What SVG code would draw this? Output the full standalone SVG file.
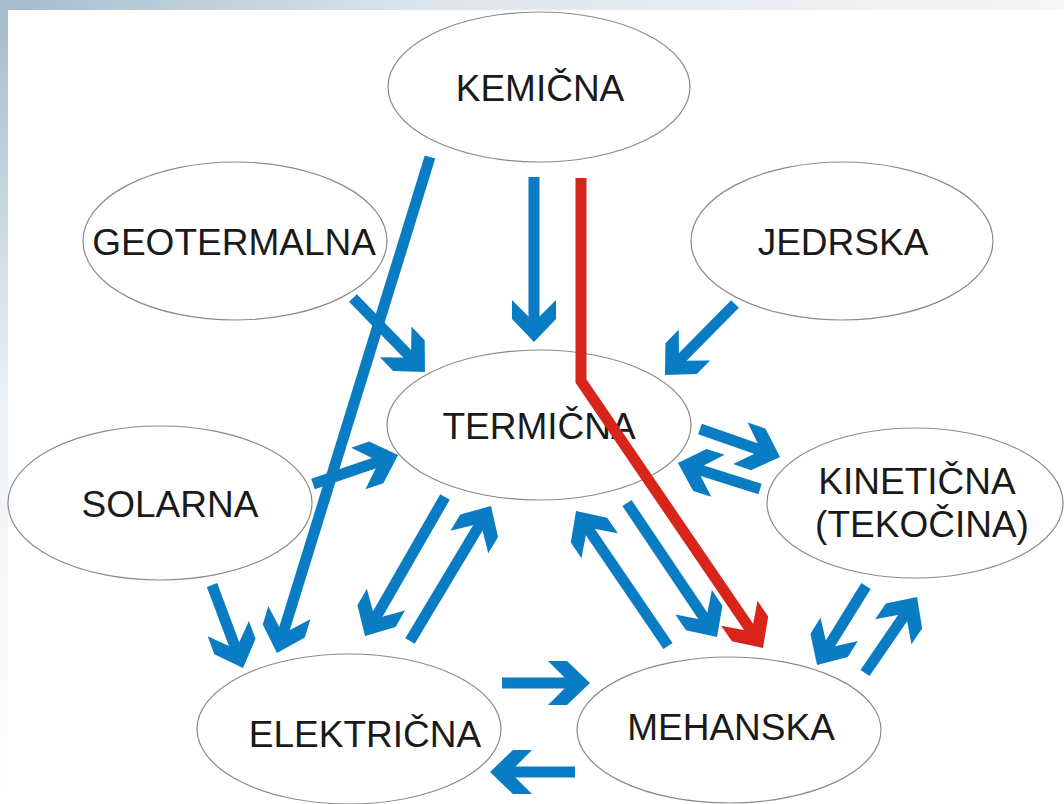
<svg xmlns="http://www.w3.org/2000/svg" width="1064" height="804" viewBox="0 0 1064 804">
  <defs>
    <linearGradient id="topBand" x1="0" y1="0" x2="1" y2="0">
      <stop offset="0" stop-color="#a6bccb"/>
      <stop offset="0.4" stop-color="#dde5ec"/>
      <stop offset="1" stop-color="#f4f6f8"/>
    </linearGradient>
    <linearGradient id="leftBand" x1="0" y1="0" x2="0" y2="1">
      <stop offset="0" stop-color="#a6bccb"/>
      <stop offset="0.5" stop-color="#eef2f5"/>
      <stop offset="1" stop-color="#ffffff"/>
    </linearGradient>
    <marker id="headB" markerUnits="userSpaceOnUse" markerWidth="44" markerHeight="44" refX="28" refY="22" orient="auto" overflow="visible">
      <polygon points="0,0 19,0 42,22 19,44 0,44 22,22" fill="#0a7cc3"/>
    </marker>
    <marker id="headR" markerUnits="userSpaceOnUse" markerWidth="44" markerHeight="44" refX="28" refY="22" orient="auto" overflow="visible">
      <polygon points="0,0 19,0 42,22 19,44 0,44 22,22" fill="#d9241c"/>
    </marker>
    <style>
      .node { fill: #ffffff; stroke: #8a8a8a; stroke-width: 1.2; }
      .lbl { font-family: "Liberation Sans", Arial, sans-serif; font-size: 37px; fill: #1a1a1a; text-anchor: middle; }
      .ab { stroke: #0a7cc3; stroke-width: 11; fill: none; marker-end: url(#headB); }
      .ar { stroke: #d9241c; stroke-width: 11; fill: none; stroke-linejoin: miter; marker-end: url(#headR); }
    </style>
  </defs>

  <rect x="0" y="0" width="1064" height="804" fill="#ffffff"/>
  <rect x="0" y="0" width="1064" height="10" fill="url(#topBand)"/>
  <rect x="0" y="10" width="8" height="794" fill="url(#leftBand)"/>

  <g id="kemicna"><ellipse class="node" cx="539" cy="87" rx="151" ry="75"/><text class="lbl" x="540" y="101">KEMIČNA</text></g>
  <g id="geotermalna"><ellipse class="node" cx="235" cy="241" rx="152" ry="79"/><text class="lbl" x="234" y="255">GEOTERMALNA</text></g>
  <g id="jedrska"><ellipse class="node" cx="842" cy="241" rx="151" ry="79"/><text class="lbl" x="843" y="255">JEDRSKA</text></g>
  <g id="termicna"><ellipse class="node" cx="539" cy="425" rx="152" ry="75"/><text class="lbl" x="539" y="439">TERMIČNA</text></g>
  <g id="solarna"><ellipse class="node" cx="160" cy="503" rx="152" ry="77"/><text class="lbl" x="170" y="517">SOLARNA</text></g>
  <g id="kineticna"><ellipse class="node" cx="915" cy="503" rx="148" ry="75"/><text class="lbl" x="917" y="494">KINETIČNA</text><text class="lbl" x="922" y="537">(TEKOČINA)</text></g>
  <g id="elektricna"><ellipse class="node" cx="349" cy="729" rx="152" ry="75"/><text class="lbl" x="365" y="747">ELEKTRIČNA</text></g>
  <g id="mehanska"><ellipse class="node" cx="729" cy="730" rx="152" ry="73"/><text class="lbl" x="731" y="740">MEHANSKA</text></g>

  <g id="connectors">
    <line class="ab" x1="430" y1="157" x2="281.1" y2="639.6"/>
    <line class="ab" x1="353" y1="298" x2="415.2" y2="362"/>
    <line class="ab" x1="534" y1="177" x2="534" y2="328"/>
    <polyline class="ar" points="581,178 581,381 755.1,636.4"/>
    <line class="ab" x1="735" y1="304" x2="674.8" y2="365"/>
    <line class="ab" x1="313" y1="484" x2="384.8" y2="459.5"/>
    <line class="ab" x1="700" y1="429" x2="766.8" y2="452.4"/>
    <line class="ab" x1="760" y1="489" x2="691.3" y2="467.2"/>
    <line class="ab" x1="445" y1="497" x2="372" y2="623.9"/>
    <line class="ab" x1="410" y1="641" x2="483.8" y2="518"/>
    <line class="ab" x1="212" y1="585" x2="238.1" y2="654.9"/>
    <line class="ab" x1="502" y1="683" x2="576" y2="683"/>
    <line class="ab" x1="575" y1="772" x2="504" y2="772"/>
    <line class="ab" x1="668" y1="646" x2="583.9" y2="522.6"/>
    <line class="ab" x1="627" y1="503" x2="709.2" y2="625.4"/>
    <line class="ab" x1="866" y1="586" x2="824.4" y2="653.1"/>
    <line class="ab" x1="865" y1="673" x2="909.1" y2="608.6"/>
  </g>
</svg>
